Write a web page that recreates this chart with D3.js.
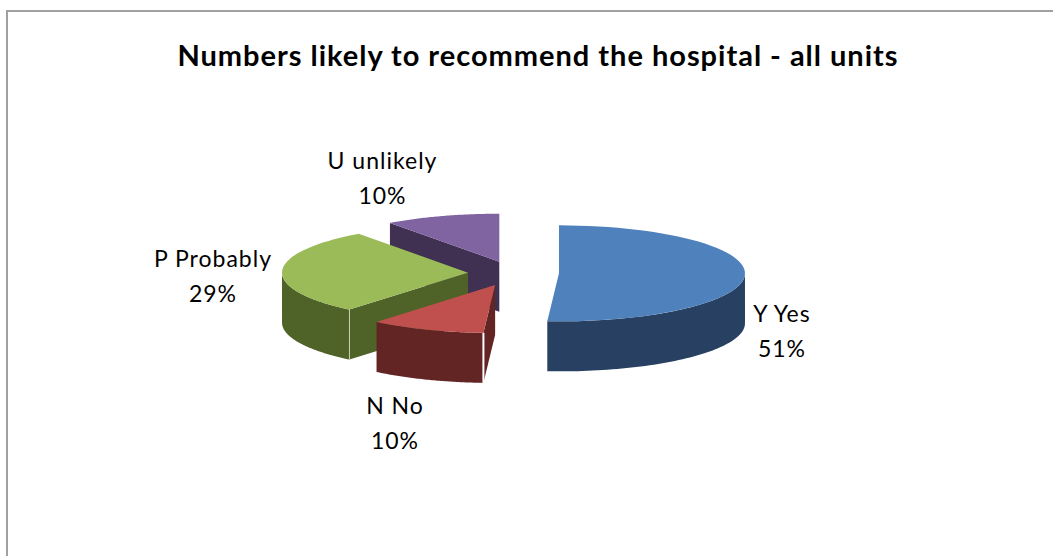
<!DOCTYPE html>
<html>
<head>
<meta charset="utf-8">
<script src="https://cdn.jsdelivr.net/npm/d3@7/dist/d3.min.js"></script>
<style>
html,body{margin:0;padding:0;background:#fff;}
svg{display:block;}
text{font-family:Lato,"Open Sans",sans-serif;fill:#000;}
</style>
</head>
<body>
<svg id="chart" width="1053" height="556"></svg>
<script>
// Survey answers and their shares, in clockwise order from twelve o'clock
const categories = ["Y Yes", "N No", "P Probably", "U unlikely"];
const shares = [51, 10, 29, 10];
const topColors = ["#4f81bd", "#c0504d", "#9bbb59", "#8064a2"];
const wallColors = ["#284162", "#632523", "#4f6228", "#403152"];
const chartTitle = "Numbers likely to recommend the hospital - all units";

const W = 1053, H = 556;
const svg = d3.select("#chart");

// Outer frame, open at the right and bottom
svg.append("path")
  .attr("d", `M7,${H} V11 H${W}`)
  .attr("fill", "none").attr("stroke", "#a0a0a0").attr("stroke-width", 2);

svg.append("text")
  .attr("x", 538).attr("y", 66)
  .attr("text-anchor", "middle")
  .attr("font-size", 29).attr("font-weight", 700)
  .attr("letter-spacing", 0.98)
  .text(chartTitle);

// Tilted disc: the pie is flattened to an ellipse and extruded downward
const cx = 513.5, cy = 273, rx = 186, ry = 48, depth = 50;
const explodeBy = [45.5, 50, 45.5, 46];

const rScale = d3.scaleLinear().domain([0, 1]).range([0, rx]);
const yScale = d3.scaleLinear().domain([0, 1]).range([0, ry]);

const project = (a, r, o) => [
  o[0] + rScale(r) * Math.sin(a),
  o[1] - yScale(r) * Math.cos(a)
];

const arcs = d3.pie().sort(null).value(d => d)(shares).map((d, i) => {
  const mid = (d.startAngle + d.endAngle) / 2;
  const o = project(mid, explodeBy[i] / rx, [cx, cy]);
  return { ...d, i, mid, o };
});

const arcPoints = (a0, a1, o) => d3.range(0, 61).map(k =>
  project(a0 + (a1 - a0) * k / 60, 1, o));

const line = d3.line();

// Back slices first so that nearer ones overlap them
const paintOrder = [3, 2, 0, 1];

paintOrder.forEach(idx => {
  const s = arcs[idx];
  const g = svg.append("g");
  const wall = wallColors[idx];

  // The cut face at a slice's leading edge shows when that edge lies on the left half
  if (s.startAngle > Math.PI) {
    const p = project(s.startAngle, 1, s.o);
    g.append("path")
      .attr("d", line([s.o, p, [p[0], p[1] + depth], [s.o[0], s.o[1] + depth]]) + "Z")
      .attr("fill", wall);
  }

  // Rim of the slice: only the part on the near half of the ellipse shows
  const a0 = Math.max(s.startAngle, Math.PI / 2);
  const a1 = Math.min(s.endAngle, Math.PI * 3 / 2);
  if (a1 > a0) {
    const upper = arcPoints(a0, a1, s.o);
    const lower = upper.map(p => [p[0], p[1] + depth]).reverse();
    g.append("path").attr("d", line(upper.concat(lower)) + "Z").attr("fill", wall);
  }

  // Top surface
  const top = [s.o].concat(arcPoints(s.startAngle, s.endAngle, s.o));
  g.append("path").attr("d", line(top) + "Z").attr("fill", topColors[idx]);
});

// Pale highlights on the vertical corners of the green and red slices
[[2, "#c9d2b4", 1], [1, "#ffffff", 2]].forEach(([idx, col, sw]) => {
  const s = arcs[idx];
  const p = project(s.startAngle, 1, s.o);
  svg.append("line")
    .attr("x1", p[0]).attr("y1", p[1])
    .attr("x2", p[0]).attr("y2", p[1] + depth)
    .attr("stroke", col).attr("stroke-width", sw);
});

// Two-line data labels beside each slice
const labelAnchors = [[782, 322], [395, 414], [213, 267], [382.5, 169]];
arcs.forEach((s, i) => {
  const t = svg.append("text")
    .attr("text-anchor", "middle").attr("font-size", 23)
    .attr("letter-spacing", 1);
  t.append("tspan").attr("x", labelAnchors[i][0]).attr("y", labelAnchors[i][1])
    .text(categories[i]);
  t.append("tspan").attr("x", labelAnchors[i][0]).attr("y", labelAnchors[i][1] + 34.5)
    .text(d3.format(".0%")(shares[i] / 100));
});
</script>
</body>
</html>
